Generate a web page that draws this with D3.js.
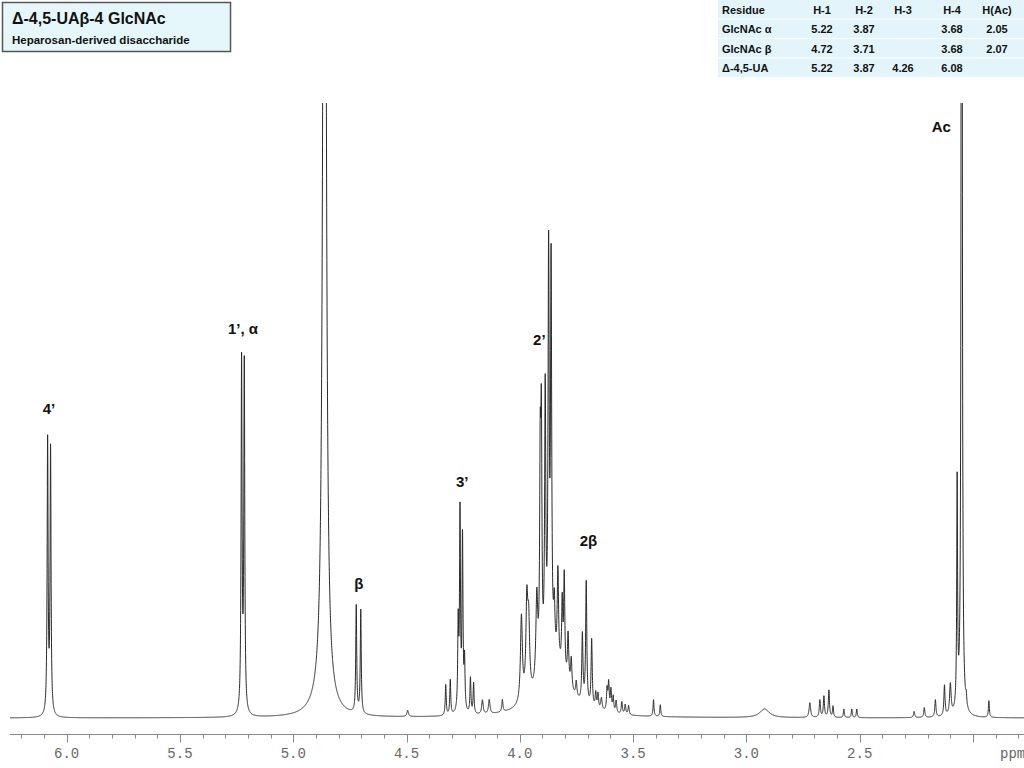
<!DOCTYPE html>
<html><head><meta charset="utf-8">
<script src="https://cdn.jsdelivr.net/npm/d3@7"></script>
<style>
html,body{margin:0;padding:0;background:#fff;}
svg{display:block;}
</style></head>
<body>
<svg id="chart" width="1024" height="768"></svg>
<script>
// ---------- data ----------
// chemical shift axis
const ppmDomain = [6.25, 1.775];
const majorTicks = [6.0, 5.5, 5.0, 4.5, 4.0, 3.5, 3.0, 2.5, 2.0];
const tickLabels = ["6.0", "5.5", "5.0", "4.5", "4.0", "3.5", "3.0", "2.5", ""];
const axisUnit = "ppm";
// intensity scale: 0 = baseline, 100 = top of plot window
const intensityDomain = [0, 100];

// resolved lines of the spectrum: position (ppm), height (intensity units), half width (ppm)
const peakPpm = [
  6.084, 6.071,
  5.228, 5.216,
  4.862, 4.870,
  4.722, 4.702,
  4.495, 4.327, 4.307,
  4.272, 4.264, 4.253, 4.244,
  4.218, 4.204, 4.165, 4.135, 4.077,
  3.993, 3.969, 3.961, 3.925, 3.910, 3.905, 3.888, 3.873, 3.862,
  3.848, 3.832, 3.813, 3.804, 3.787, 3.773, 3.751, 3.724, 3.707, 3.683,
  3.665, 3.655, 3.640, 3.615, 3.608, 3.598, 3.588, 3.575, 3.550, 3.535, 3.520,
  3.850,
  3.410, 3.380, 2.920,
  2.720, 2.676, 2.658, 2.636, 2.618, 2.570, 2.535, 2.513,
  2.260, 2.215, 2.166, 2.126, 2.100,
  2.070, 2.050, 2.030, 1.930
];
const peakHeight = [
  44.5, 43.2,
  57.0, 56.4,
  253, 2.0,
  17.4, 16.8,
  1.0, 5.0, 5.7,
  14.0, 32.0, 28.0, 8.0,
  5.8, 5.0, 2.3, 2.3, 2.0,
  14.0, 15.0, 11.0, 14.0, 32.0, 37.0, 44.0, 65.0, 63.0,
  8.0, 15.0, 11.0, 16.0, 8.0, 5.0, 2.5, 11.0, 20.0, 11.0,
  2.5, 2.5, 2.0, 3.5, 4.5, 3.5, 2.5, 2.0, 2.0, 1.6, 1.5,
  8.0,
  2.7, 1.9, 1.4,
  2.4, 2.8, 3.4, 4.4, 1.8, 1.4, 1.4, 1.4,
  1.0, 1.6, 2.8, 5.0, 5.0,
  37.0, 325, 1.5, 2.7
];
const peakWidth = [
  0.0025, 0.0025,
  0.0025, 0.0025,
  0.0066, 0.045,
  0.0025, 0.0025,
  0.004, 0.0025, 0.0025,
  0.0025, 0.0025, 0.0025, 0.0025,
  0.0025, 0.0025, 0.004, 0.004, 0.003,
  0.0050, 0.0050, 0.0050, 0.0050, 0.0030, 0.0030, 0.0030, 0.0030, 0.0030,
  0.0035, 0.0035, 0.0030, 0.0030, 0.0035, 0.0035, 0.0035, 0.0030, 0.0030, 0.0030,
  0.003, 0.003, 0.004, 0.003, 0.003, 0.003, 0.003, 0.003, 0.003, 0.003, 0.003,
  0.075,
  0.0025, 0.0025, 0.025,
  0.004, 0.003, 0.003, 0.003, 0.0025, 0.0025, 0.0025, 0.0025,
  0.003, 0.003, 0.003, 0.003, 0.004,
  0.0022, 0.0019, 0.0025, 0.0025
];

// peak annotations
const labelText = ["4\u2019", "1\u2019, \u03b1", "\u03b2", "3\u2019", "2\u2019", "2\u03b2", "Ac"];
const labelPpm = [6.078, 5.222, 4.710, 4.254, 3.914, 3.697, 2.140];
const labelLevel = [49.4, 62.4, 20.9, 37.6, 60.6, 28.0, 95.3];

// title box
const titleMain = "\u0394-4,5-UA\u03b2-4 GlcNAc";
const titleSub = "Heparosan-derived disaccharide";

// assignment table
const tableHeader = ["Residue", "H-1", "H-2", "H-3", "H-4", "H(Ac)"];
const tableResidues = ["GlcNAc \u03b1", "GlcNAc \u03b2", "\u0394-4,5-UA"];
const tableH1 = ["5.22", "4.72", "5.22"];
const tableH2 = ["3.87", "3.71", "3.87"];
const tableH3 = ["", "", "4.26"];
const tableH4 = ["3.68", "3.68", "6.08"];
const tableHAc = ["2.05", "2.07", ""];

// ---------- drawing ----------
const svg = d3.select("#chart");
const plotLeft = 10, plotRight = 1024, plotTop = 103, baseY = 718, axisY = 734;

const x = d3.scaleLinear().domain(ppmDomain).range([plotLeft, plotRight]);
const y = d3.scaleLinear().domain(intensityDomain).range([baseY, plotTop]);

// spectrum as the sum of the listed lines
function intensityAt(p) {
  let s = 0;
  for (let i = 0; i < peakPpm.length; i++) {
    const g = peakWidth[i], d = p - peakPpm[i];
    s += peakHeight[i] * g * g / (g * g + d * d);
  }
  return s;
}
const step = 0.0004;
const samples = [];
for (let p = ppmDomain[0]; p >= ppmDomain[1]; p -= step) samples.push([p, intensityAt(p)]);

svg.append("defs").append("clipPath").attr("id", "plotclip")
  .append("rect").attr("x", plotLeft).attr("y", plotTop)
  .attr("width", plotRight - plotLeft).attr("height", axisY - plotTop);

const line = d3.line().x(d => x(d[0])).y(d => y(d[1]));
svg.append("path")
  .datum(samples)
  .attr("clip-path", "url(#plotclip)")
  .attr("fill", "none")
  .attr("stroke", "#2a2a2a")
  .attr("stroke-width", 1)
  .attr("stroke-linejoin", "round")
  .attr("d", line);

// x axis
const minorTicks = d3.range(62, 17, -1).map(v => v / 10);
const axisG = svg.append("g").attr("transform", `translate(0,${axisY})`);
axisG.append("line").attr("x1", plotLeft).attr("x2", plotRight)
  .attr("y1", 0.5).attr("y2", 0.5).attr("stroke", "#8a8a8a").attr("stroke-width", 1);
axisG.selectAll("line.minor").data(minorTicks).join("line").attr("class", "minor")
  .attr("x1", d => Math.round(x(d)) + 0.5).attr("x2", d => Math.round(x(d)) + 0.5)
  .attr("y1", 0.5).attr("y2", 4.5).attr("stroke", "#8a8a8a");
axisG.selectAll("line.major").data(majorTicks).join("line").attr("class", "major")
  .attr("x1", d => Math.round(x(d)) + 0.5).attr("x2", d => Math.round(x(d)) + 0.5)
  .attr("y1", 0.5).attr("y2", 8.5).attr("stroke", "#8a8a8a");
axisG.selectAll("text.tl").data(majorTicks).join("text").attr("class", "tl")
  .attr("x", d => x(d)).attr("y", 24)
  .attr("text-anchor", "middle")
  .attr("font-family", "'Liberation Mono','DejaVu Sans Mono',monospace")
  .attr("font-size", 14).attr("fill", "#666")
  .text((d, i) => tickLabels[i]);
axisG.append("text").attr("x", 1000).attr("y", 24)
  .attr("font-family", "'Liberation Mono','DejaVu Sans Mono',monospace")
  .attr("font-size", 14).attr("fill", "#666").text(axisUnit);

// peak labels
svg.selectAll("text.pl").data(labelText).join("text").attr("class", "pl")
  .attr("x", (d, i) => x(labelPpm[i]))
  .attr("y", (d, i) => y(labelLevel[i]))
  .attr("text-anchor", "middle")
  .attr("font-family", "'Liberation Sans',Arial,sans-serif")
  .attr("font-weight", "bold").attr("font-size", 15).attr("fill", "#111")
  .text(d => d);

// title box
svg.append("rect").attr("x", 2.5).attr("y", 2.5).attr("width", 228).attr("height", 49)
  .attr("fill", "#e6f7fc").attr("stroke", "#555").attr("stroke-width", 1.5);
svg.append("text").attr("x", 12).attr("y", 24)
  .attr("font-family", "'Liberation Sans',Arial,sans-serif")
  .attr("font-weight", "bold").attr("font-size", 16).attr("fill", "#111").text(titleMain);
svg.append("text").attr("x", 12).attr("y", 44)
  .attr("font-family", "'Liberation Sans',Arial,sans-serif")
  .attr("font-weight", "bold").attr("font-size", 11.5).attr("fill", "#111").text(titleSub);

// table
const tX = 718, tW = 306, rowH = 19.5;
const colX = [722, 822, 864, 903, 952, 997];
const rows = [tableHeader].concat(tableResidues.map((r, i) =>
  [r, tableH1[i], tableH2[i], tableH3[i], tableH4[i], tableHAc[i]]));
const tg = svg.append("g");
rows.forEach((row, ri) => {
  tg.append("rect").attr("x", tX).attr("y", ri * rowH).attr("width", tW).attr("height", rowH - 1)
    .attr("fill", "#e3f5fb");
  row.forEach((cell, ci) => {
    tg.append("text")
      .attr("x", colX[ci]).attr("y", ri * rowH + 13.5)
      .attr("text-anchor", ci === 0 ? "start" : "middle")
      .attr("font-family", "'Liberation Sans',Arial,sans-serif")
      .attr("font-weight", "bold").attr("font-size", 11).attr("fill", "#111")
      .text(cell);
  });
});
</script>
</body></html>
